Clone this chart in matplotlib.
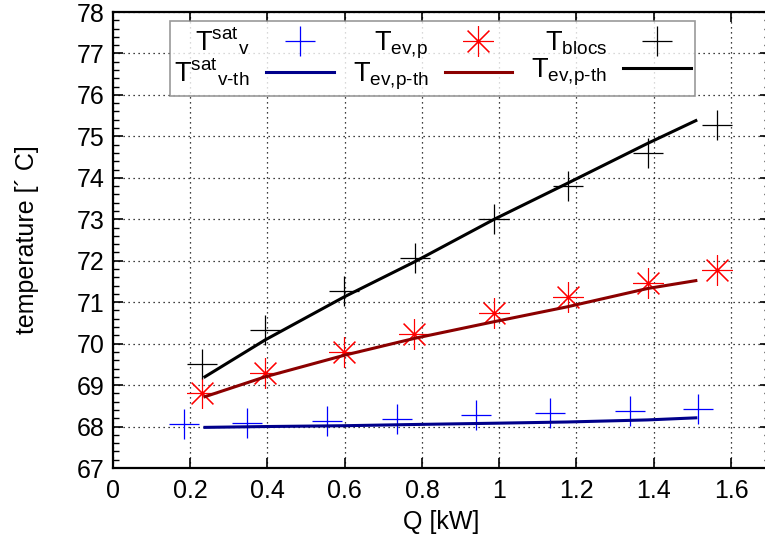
import matplotlib
matplotlib.use("Agg")
import matplotlib.pyplot as plt
from matplotlib.ticker import MultipleLocator

plt.rcParams['font.family'] = ['Liberation Sans', 'DejaVu Sans']
plt.rcParams['mathtext.fontset'] = 'custom'
plt.rcParams['mathtext.rm'] = 'Liberation Sans'
plt.rcParams['mathtext.it'] = 'Liberation Sans'
plt.rcParams['mathtext.bf'] = 'Liberation Sans:bold'

# Measured data
q_sat = [0.184, 0.347, 0.554, 0.735, 0.940, 1.131, 1.339, 1.515]
t_sat = [68.05, 68.08, 68.13, 68.17, 68.28, 68.33, 68.37, 68.42]

q_ev = [0.230, 0.394, 0.599, 0.780, 0.987, 1.177, 1.386, 1.563]
t_ev = [68.80, 69.30, 69.80, 70.23, 70.73, 71.12, 71.47, 71.78]

q_bl = [0.231, 0.394, 0.599, 0.782, 0.987, 1.177, 1.384, 1.563]
t_bl = [69.52, 70.33, 71.27, 72.07, 73.01, 73.80, 74.61, 75.27]

# Theoretical curves
q_th = [0.238, 0.394, 0.599, 0.782, 0.987, 1.177, 1.384, 1.509]
t_sat_th = [67.98, 68.00, 68.02, 68.05, 68.08, 68.11, 68.16, 68.21]
t_ev_th = [68.72, 69.20, 69.72, 70.13, 70.53, 70.89, 71.33, 71.52]
t_bl_th = [69.20, 70.09, 71.13, 71.98, 73.00, 73.87, 74.83, 75.38]

xticks = [0, 0.2, 0.4, 0.6, 0.8, 1, 1.2, 1.4, 1.6]
xticklabels = ['0', '0.2', '0.4', '0.6', '0.8', '1', '1.2', '1.4', '1.6']
yticks = list(range(67, 79))

W, H = 765, 544
fig = plt.figure(figsize=(W / 100, H / 100), dpi=100)
ax = fig.add_axes([113 / W, (H - 468) / H, 656.6 / W, 456 / H])

ms = 22
ax.plot(q_sat, t_sat, linestyle='none', marker='+', color='#0000ff', ms=ms, mew=0.9)
ax.plot(q_th, t_sat_th, color='#00008b', lw=2.2)
ax.plot(q_ev, t_ev, linestyle='none', marker=(8, 2, 0), color='#ff0000', ms=ms, mew=0.8)
ax.plot(q_th, t_ev_th, color='#8b0000', lw=2.2)
ax.plot(q_bl, t_bl, linestyle='none', marker='+', color='black', ms=ms, mew=0.9)
ax.plot(q_th, t_bl_th, color='black', lw=2.2)

ax.set_xlim(0, 1.7)
ax.set_ylim(67, 78)
ax.set_xticks(xticks)
ax.set_xticklabels(xticklabels)
ax.set_yticks(yticks)
ax.yaxis.set_minor_locator(MultipleLocator(0.2))
ax.tick_params(axis='both', which='major', direction='in', length=7, width=1.2,
               labelsize=18, top=True, right=True)
ax.tick_params(axis='y', which='minor', direction='in', length=4, width=1.0, right=True)
ax.tick_params(axis='x', pad=8)
ax.tick_params(axis='y', pad=6)
ax.grid(True, which='major', linestyle=(0, (1, 3)), color='black', lw=0.9)
for s in ax.spines.values():
    s.set_linewidth(1.6)

ax.set_xlabel('Q [kW]', fontsize=18, labelpad=5)
ax.set_ylabel('temperature [\u00b4 C]', fontsize=18, labelpad=27)

h = ax.get_lines()
labels = [r'$\mathregular{T^{sat}{}_{v}}$', r'$\mathregular{T^{sat}{}_{v\text{-}th}}$',
          r'$\mathregular{T_{ev{,}p}}$', r'$\mathregular{T_{ev{,}p\text{-}th}}$',
          r'$\mathregular{T_{blocs}}$', r'$\mathregular{T_{ev{,}p\text{-}th}}$']
leg = fig.legend(h, labels, ncol=3, markerfirst=False, fontsize=19.5,
                 loc='upper left', bbox_to_anchor=(170 / W, 1 - 21 / H),
                 frameon=True, fancybox=False, edgecolor='#808080',
                 handlelength=2.5, columnspacing=0.7, handletextpad=0.6,
                 labelspacing=0.0, borderpad=0.15, borderaxespad=0)
leg.get_frame().set_linewidth(1.2)
fig.savefig('out.png', dpi=100)
